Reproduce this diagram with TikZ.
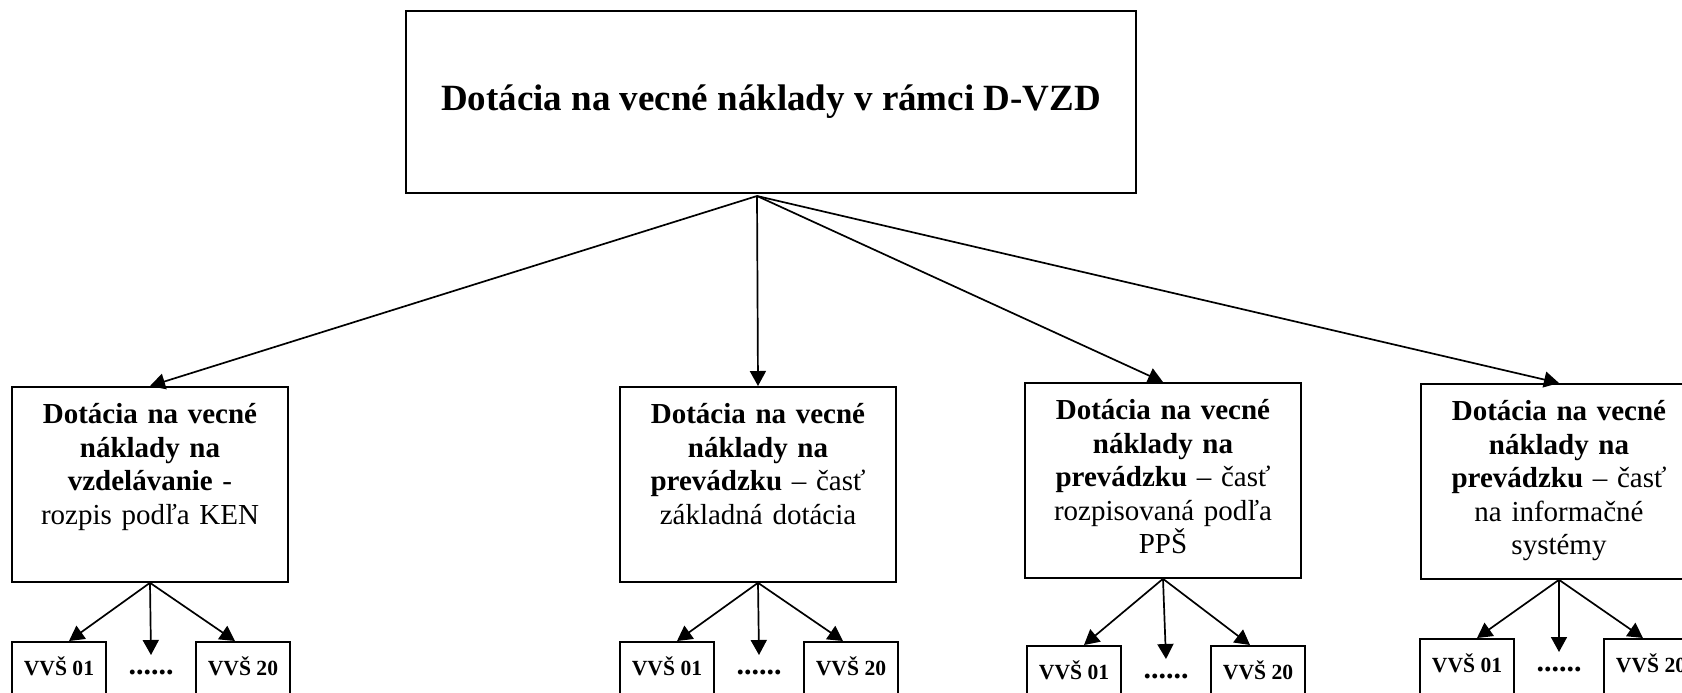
\documentclass[tikz,border=0pt]{standalone}
\usepackage{fontspec}
\setmainfont{Liberation Serif}
\usetikzlibrary{arrows.meta,positioning}

\begin{document}
\begin{tikzpicture}
[x=0.5pt,y=-0.5pt,
every edge/.append style={draw=black,line width=0.85pt,-{Triangle[length=7.5pt,width=8pt]}},
topbox/.style={draw,line width=0.9pt,minimum width=365pt,minimum height=91pt,font=\fontsize{18.5}{22}\selectfont\bfseries},
catbox/.style={draw,line width=0.9pt,anchor=north,text width=130pt,align=center,inner xsep=4pt,inner ysep=8.5pt,text height=10pt,text depth=70.5pt,font=\fontsize{14.5}{16.7}\selectfont},
unibox/.style={draw,line width=0.9pt,anchor=north,minimum width=47pt,inner ysep=9.5pt,text height=7.5pt,text depth=24pt,font=\fontsize{10.8}{12}\selectfont\bfseries},
dots/.style={anchor=base,inner sep=0pt,font=\fontsize{15}{18}\selectfont\bfseries},
]
\useasboundingbox (0,0) rectangle (1682,692);
\def \dx {92} % offset of the VVS boxes, in px

\node[topbox] (top) at (771,102) {Dotácia na vecné náklady v rámci D-VZD};
\coordinate (src) at (757,196);

\node[catbox] (c1) at (150,386) {\textbf{Dotácia na vecné}\\ \textbf{náklady na}\\ \textbf{vzdelávanie} -\\ rozpis podľa KEN};
\node[catbox] (c2) at (758,386) {\textbf{Dotácia na vecné}\\ \textbf{náklady na}\\ \textbf{prevádzku} -- časť\\ základná dotácia};
\node[catbox] (c3) at (1163,382) {\textbf{Dotácia na vecné}\\ \textbf{náklady na}\\ \textbf{prevádzku} -- časť\\ rozpisovaná podľa\\ PPŠ};
\node[catbox] (c4) at (1559,383) {\textbf{Dotácia na vecné}\\ \textbf{náklady na}\\ \textbf{prevádzku} -- časť\\ na informačné\\ systémy};

\draw (src) edge (c1.north) edge (c2.north) edge (c3.north) edge (c4.north);

\foreach \i/\cx/\ty in {1/151/641, 2/759/641, 3/1166/645, 4/1559/638}
{
\node[unibox] (a\i) at (\cx-\dx,\ty) {VVŠ 01};
\node[unibox] (z\i) at (\cx+\dx,\ty) {VVŠ 20};
\node[dots] (d\i) at (\cx,\ty+33) {......};
\coordinate (m\i) at (\cx,\ty+14);
\draw (c\i.south) edge ([xshift=5pt]a\i.north) edge (m\i) edge ([xshift=-4pt]z\i.north);
}
\end{tikzpicture}
\end{document}
